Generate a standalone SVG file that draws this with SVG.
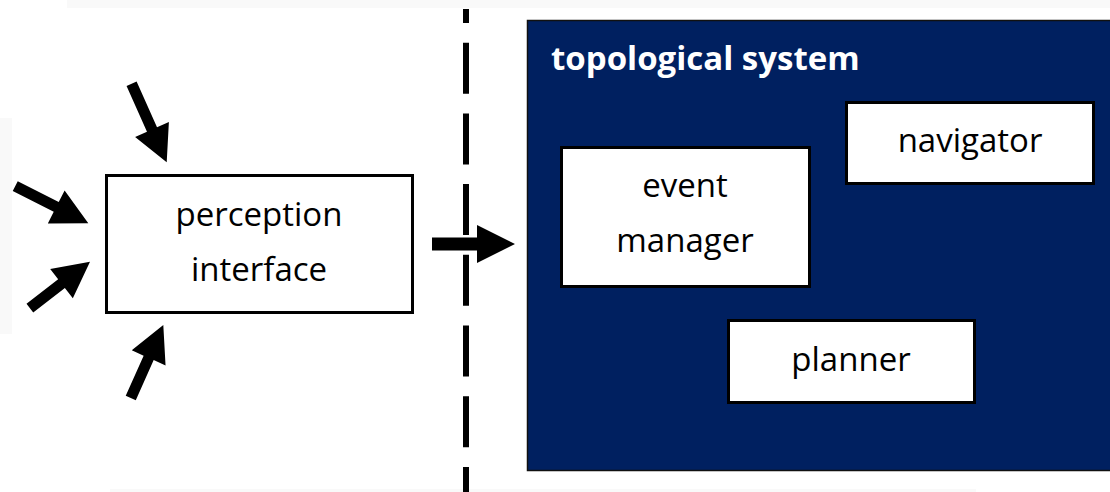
<svg xmlns="http://www.w3.org/2000/svg" width="1110" height="492" viewBox="0 0 1110 492">
  <style>
    .box { fill: #ffffff; stroke: #000000; stroke-width: 3; }
    .label { font-family: "Open Sans", "Liberation Sans", sans-serif; font-size: 33px; fill: #000000; text-anchor: middle; }
    .title { font-family: "Open Sans", "Liberation Sans", sans-serif; font-size: 33px; font-weight: bold; fill: #ffffff; }
    .arrow { fill: #000000; }
    .divider { stroke: #000000; stroke-width: 6; stroke-dasharray: 51 19.7; stroke-dashoffset: 37; fill: none; }
    .edge { fill: #f9f9f9; }
  </style>

  <rect width="1110" height="492" fill="#ffffff"/>

  <!-- faint edge bands -->
  <rect class="edge" x="67" y="0" width="1043" height="8"/>
  <rect class="edge" x="0" y="118" width="12" height="216"/>
  <rect class="edge" x="110" y="489" width="866" height="3"/>

  <!-- dashed boundary -->
  <line class="divider" x1="466" y1="9" x2="466" y2="492"/>

  <!-- topological system container -->
  <g id="topological-system">
    <rect x="527.5" y="20.5" width="600" height="450" fill="#002060" stroke="#111111" stroke-width="1.5"/>
    <text class="title" x="551" y="70">topological system</text>
  </g>

  <g id="perception-interface">
    <rect class="box" x="106.5" y="175.5" width="306" height="137"/>
    <text class="label" x="259" y="226">perception</text>
    <text class="label" x="259" y="281">interface</text>
  </g>

  <g id="event-manager">
    <rect class="box" x="561.5" y="147.5" width="248" height="139"/>
    <text class="label" x="685" y="197">event</text>
    <text class="label" x="685" y="252">manager</text>
  </g>

  <g id="navigator">
    <rect class="box" x="846.5" y="102.5" width="247" height="81"/>
    <text class="label" x="970" y="152">navigator</text>
  </g>

  <g id="planner">
    <rect class="box" x="728.5" y="320.5" width="246" height="82"/>
    <text class="label" x="851" y="371">planner</text>
  </g>

  <!-- connectors: block arrows, tip at origin, pointing along +x -->
  <g id="connectors">
    <path class="arrow" transform="translate(166.7,162.3) rotate(65.9)" d="M0,0 L-36,-18.5 L-36,-5.5 L-86,-5.5 L-86,5.5 L-36,5.5 L-36,18.5 Z"/>
    <path class="arrow" transform="translate(88.3,223.3) rotate(27)" d="M0,0 L-36,-18.5 L-36,-5.5 L-82,-5.5 L-82,5.5 L-36,5.5 L-36,18.5 Z"/>
    <path class="arrow" transform="translate(90,261.7) rotate(-37.7)" d="M0,0 L-36,-18.5 L-36,-5.5 L-76,-5.5 L-76,5.5 L-36,5.5 L-36,18.5 Z"/>
    <path class="arrow" transform="translate(163.3,325) rotate(-66)" d="M0,0 L-36,-18.5 L-36,-5.5 L-80,-5.5 L-80,5.5 L-36,5.5 L-36,18.5 Z"/>
    <path class="arrow" transform="translate(515,244) rotate(0)" d="M0,0 L-38,-19 L-38,-6.5 L-83,-6.5 L-83,6.5 L-38,6.5 L-38,19 Z"/>
  </g>
</svg>
